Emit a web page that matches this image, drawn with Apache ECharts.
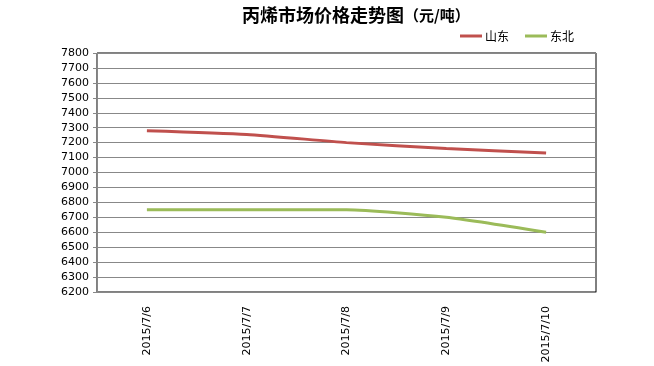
<!DOCTYPE html>
<html><head><meta charset="utf-8">
<script src="https://cdn.jsdelivr.net/npm/echarts@6/dist/echarts.min.js"></script>
<style>html,body{margin:0;padding:0;background:#fff}#c{width:654px;height:366px}</style>
</head><body><div id="c"></div>
<script>
var categories = ['2015/7/6','2015/7/7','2015/7/8','2015/7/9','2015/7/10'];
var shandong = [7280, 7255, 7200, 7160, 7130];
var dongbei = [6750, 6750, 6750, 6700, 6600];
var seriesNames = ['山东','东北'];
var chart = echarts.init(document.getElementById('c'));
chart.setOption({
  animation: false,
  backgroundColor: '#fff',
  title: {
    text: '{a|丙烯市场价格走势图}{b|（元/吨）}',
    left: 237, top: 1,
    textStyle: {
      rich: {
        a: {fontFamily: 'Noto Sans CJK SC', fontSize: 18, fontWeight: 'bold', color: '#000'},
        b: {fontFamily: 'Noto Sans CJK SC', fontSize: 15, color: '#000'}
      }
    }
  },
  legend: {
    data: seriesNames,
    left: 455, top: 25,
    itemWidth: 22, itemHeight: 3, itemGap: 16,
    icon: 'rect',
    textStyle: {fontFamily: 'Noto Sans CJK SC', fontSize: 12, color: '#000', padding: [0,0,0,-2]}
  },
  grid: {left: 97, right: 58, top: 53, bottom: 74, show: true, borderColor: '#000', borderWidth: 1},
  xAxis: {
    type: 'category', data: categories, boundaryGap: true,
    axisLine: {lineStyle: {color: '#888'}},
    axisTick: {inside: true, length: 5, lineStyle: {color: '#888'}},
    axisLabel: {rotate: 90, fontFamily: 'DejaVu Sans', fontSize: 11, color: '#000', margin: 14}
  },
  yAxis: {
    type: 'value', min: 6200, max: 7800, interval: 100,
    axisLine: {show: true, lineStyle: {color: '#888'}},
    axisTick: {show: true, length: 4, lineStyle: {color: '#888'}},
    axisLabel: {fontFamily: 'DejaVu Sans', fontSize: 11, color: '#000', margin: 8,
      formatter: function (v) { return String(v); }},
    splitLine: {lineStyle: {color: '#888'}}
  },
  series: [
    {name: seriesNames[0], type: 'line', data: shandong, smooth: 0.2, showSymbol: false,
     lineStyle: {width: 3, color: '#C0504D'}, itemStyle: {color: '#C0504D'}},
    {name: seriesNames[1], type: 'line', data: dongbei, smooth: 0.2, showSymbol: false,
     lineStyle: {width: 3, color: '#9BBB59'}, itemStyle: {color: '#9BBB59'}}
  ]
});
</script></body></html>
